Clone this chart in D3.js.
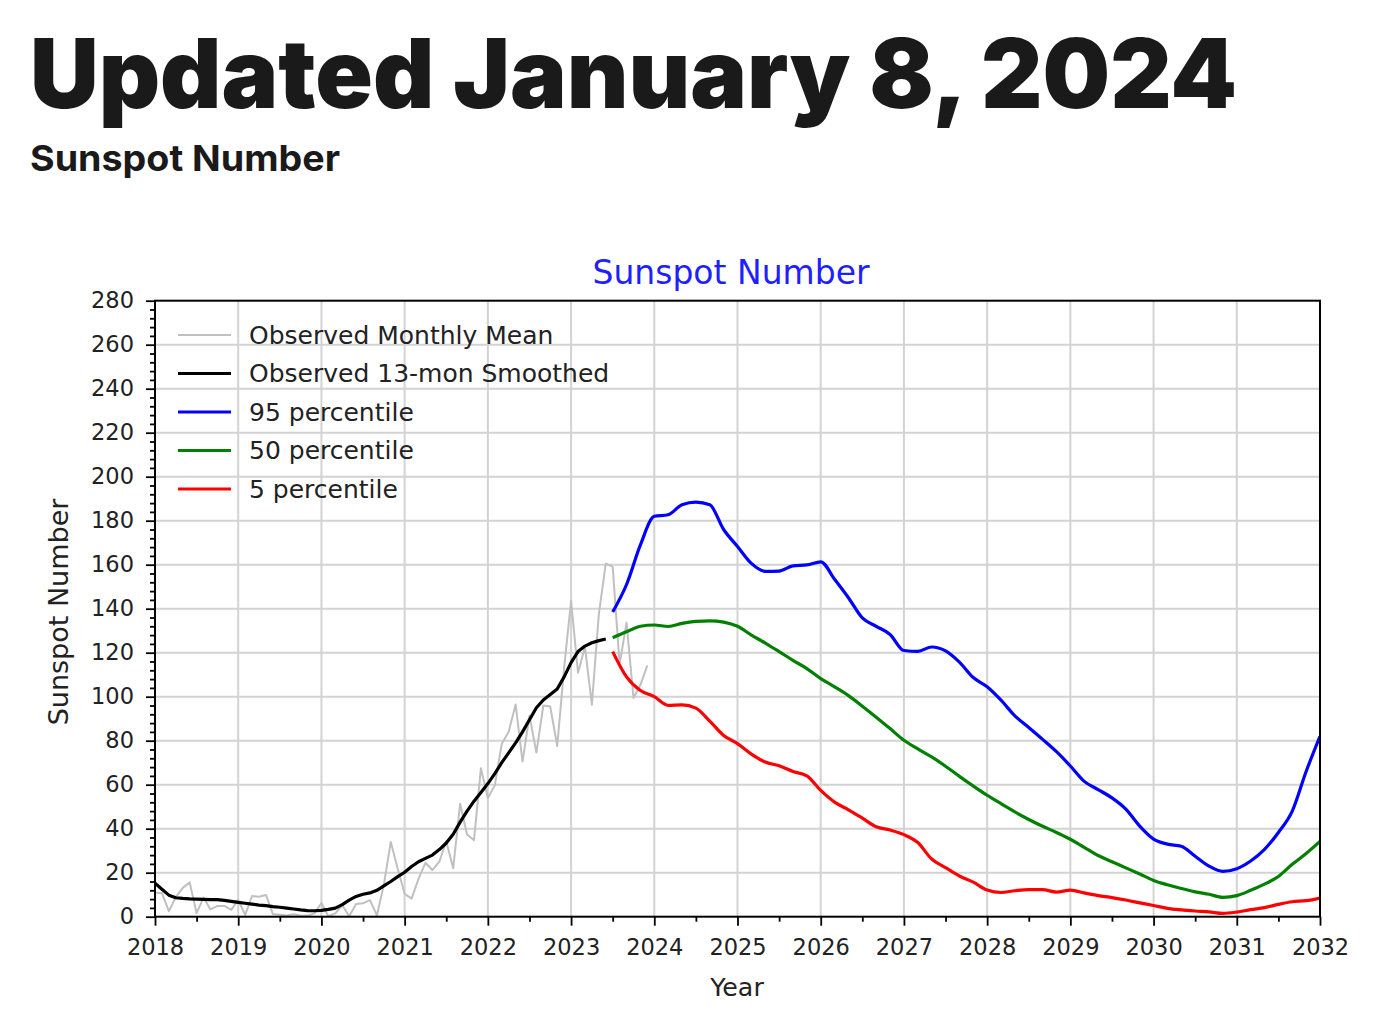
<!DOCTYPE html>
<html><head><meta charset="utf-8">
<script src="https://cdn.jsdelivr.net/npm/d3@7"></script>
<style>body{margin:0;background:#fff} svg{display:block}</style>
</head><body>
<svg id="c" width="1378" height="1024"></svg>
<script>
// ---------- DATA ----------
const startYear = 2018;            // first observed month (Jan 2018)
const monthlyMean = [
  11.0, 10.7, 2.5, 8.9, 13.1, 15.6, 1.6, 8.7, 3.3, 4.9, 4.9, 3.1,
  7.7, 0.8, 9.4, 9.1, 9.9, 1.2, 0.9, 0.5, 1.1, 0.4, 0.5, 1.5,
  6.2, 0.2, 1.5, 5.2, 0.2, 5.8, 6.1, 7.5, 0.6, 14.4, 34.0, 21.8,
  10.4, 8.2, 17.2, 24.5, 21.2, 25.0, 34.3, 22.0, 51.3, 37.4, 34.8, 67.5,
  54.0, 59.7, 78.5, 84.1, 96.5, 70.5, 91.4, 74.6, 96.0, 95.5, 77.6, 113.1,
  143.6, 110.9, 122.6, 96.4, 137.4, 160.5, 159.1, 114.8, 133.6, 99.4, 105.4, 114.2
];
const smoothed13 = [
  15.2, 12.5, 9.8, 8.6, 8.3, 8.1, 8.0, 7.9, 7.8, 7.8, 7.4, 7.0,
  6.5, 6.1, 5.7, 5.3, 5.0, 4.6, 4.3, 3.9, 3.5, 3.1, 2.8, 2.7,
  2.9, 3.3, 3.9, 5.5, 7.5, 9.2, 10.2, 10.8, 12.0, 14.0, 16.0, 18.2,
  20.2, 22.8, 25.0, 26.5, 28.0, 30.5, 33.5, 37.5, 43.0, 48.0, 52.5, 56.5,
  60.5, 65.0, 70.0, 74.5, 79.0, 84.0, 89.5, 95.0, 98.5, 101.0, 103.5, 109.0,
  115.5, 120.5, 123.0, 124.5, 125.5, 126.2
];
const predStart = 2023.5;          // predictions every 2 months from mid-2023
const predStep = 1 / 6;
const p95 = [
  138.5, 151, 169, 182, 182.7, 187.3, 188.4, 187.2, 176, 168.3, 160.6, 157,
  157.1, 159.5, 159.9, 161.3, 153.4, 145, 135.8, 132, 128.3, 121, 120.6, 122.6,
  120.8, 115.7, 108.7, 104.5, 98.4, 91.3, 86, 80.6, 75, 68.5, 61.5, 57.8,
  54, 48.9, 41.2, 35.3, 33, 32, 27.5, 23, 20.6, 21.8, 25.3, 30.6,
  38.3, 48, 66, 82
];
const p50 = [
  126.8, 129.5, 132, 132.6, 131.9, 133.3, 134.2, 134.5, 133.9, 132, 128, 124.4,
  120.5, 116.5, 112.8, 108.2, 104.5, 100.5, 95.7, 90.7, 85.5, 80.2, 76.3, 72.6,
  68.4, 63.8, 59.4, 55.2, 51.4, 47.6, 44.2, 41.1, 38.3, 35.2, 31.5, 27.8,
  25, 22.2, 19.4, 16.5, 14.5, 12.8, 11.3, 10.2, 8.8, 9.6, 12, 14.8,
  18.3, 23.8, 28.7, 34.2
];
const p5 = [
  120.5, 109, 102.8, 100, 96.1, 96.3, 94.8, 88.9, 82.4, 78.7, 73.9, 70.3,
  68.6, 66, 64, 57.4, 52.1, 48.6, 44.8, 40.9, 39.4, 37.3, 33.7, 26.2,
  22.3, 18.5, 15.7, 12.1, 11, 11.8, 12.3, 12.3, 11.2, 12.1, 10.8, 9.6,
  8.7, 7.6, 6.3, 5.1, 3.8, 3.1, 2.6, 2.2, 1.5, 2.1, 3.2, 4.1,
  5.6, 6.8, 7.3, 8.5
];
const yTicks = [0,20,40,60,80,100,120,140,160,180,200,220,240,260,280];
const xTicks = [2018,2019,2020,2021,2022,2023,2024,2025,2026,2027,2028,2029,2030,2031,2032];
const legendLabels = ["Observed Monthly Mean","Observed 13-mon Smoothed","95 percentile","50 percentile","5 percentile"];
const legendColors = ["#c0c0c0","#000000","#0000ff","#008000","#ff0000"];
const headline = "Updated January 8, 2024";
const subhead = "Sunspot Number";
const chartTitle = "Sunspot Number";
const xLabel = "Year";
const yLabel = "Sunspot Number";

// ---------- DRAW ----------
const svg = d3.select("#c");
const L = 155, R = 1320, T = 300.7, B = 916.7;
const x = d3.scaleLinear().domain([2018, 2032]).range([L, R]);
const y = d3.scaleLinear().domain([0, 280]).range([B, T]);
const FONT = "DejaVu Sans";
const TXT = "#222";

// headline
svg.append("text").attr("x", 30).attr("y", 108)
  .attr("font-family", "Inter").attr("font-weight", 900).attr("font-size", 96)
  .attr("fill", "#1a1a1a").attr("textLength", 1207).attr("lengthAdjust", "spacingAndGlyphs")
  .text(headline);
svg.append("text").attr("x", 30).attr("y", 171)
  .attr("font-family", "Inter").attr("font-weight", 700).attr("font-size", 36)
  .attr("fill", "#1a1a1a").attr("textLength", 310).attr("lengthAdjust", "spacingAndGlyphs")
  .text(subhead);

// grid
const grid = svg.append("g").attr("stroke", "#d3d3d3").attr("stroke-width", 2);
grid.selectAll("line.v").data(xTicks.slice(1, -1)).join("line")
  .attr("x1", d => x(d)).attr("x2", d => x(d)).attr("y1", T).attr("y2", B);
grid.selectAll("line.h").data(yTicks.slice(1, -1)).join("line")
  .attr("x1", L).attr("x2", R).attr("y1", d => y(d)).attr("y2", d => y(d));

// clip
svg.append("clipPath").attr("id", "clip").append("rect")
  .attr("x", L).attr("y", T).attr("width", R - L).attr("height", B - T);
const plot = svg.append("g").attr("clip-path", "url(#clip)");

const line = d3.line().x(d => x(d[0])).y(d => y(d[1]));
const monthSeries = arr => arr.map((v, i) => [startYear + i / 12, v]);
const predSeries = arr => arr.map((v, i) => [predStart + i * predStep, v]);

plot.append("path").datum(monthSeries(monthlyMean)).attr("d", line)
  .attr("fill", "none").attr("stroke", legendColors[0]).attr("stroke-width", 2).attr("stroke-linejoin", "round");
plot.append("path").datum(monthSeries(smoothed13)).attr("d", line)
  .attr("fill", "none").attr("stroke", legendColors[1]).attr("stroke-width", 3.2).attr("stroke-linejoin", "round");
[[p95, 2], [p50, 3], [p5, 4]].forEach(([arr, ci]) => {
  plot.append("path").datum(predSeries(arr)).attr("d", d3.line().curve(d3.curveMonotoneX).x(d => x(d[0])).y(d => y(d[1])))
    .attr("fill", "none").attr("stroke", legendColors[ci]).attr("stroke-width", 3.2).attr("stroke-linejoin", "round");
});

// axes
const fmtStyle = g => {
  g.select(".domain").remove();
  g.selectAll(".tick line").attr("stroke", "#000").attr("stroke-width", 1.8);
  g.selectAll(".tick text").attr("font-family", FONT).attr("font-size", 22.5).attr("fill", TXT);
};
svg.append("g").attr("transform", `translate(${L},0)`)
  .call(d3.axisLeft(y).tickValues(yTicks).tickSize(9).tickPadding(12).tickFormat(d3.format("d")))
  .call(fmtStyle);
const yMinor = d3.range(0, 281, 4).filter(v => v % 20 !== 0);
svg.append("g").attr("transform", `translate(${L},0)`)
  .call(d3.axisLeft(y).tickValues(yMinor).tickSize(5).tickFormat(""))
  .call(fmtStyle);
svg.append("g").attr("transform", `translate(0,${B})`)
  .call(d3.axisBottom(x).tickValues(xTicks).tickSize(9).tickPadding(13).tickFormat(d3.format("d")))
  .call(fmtStyle);
const xMinor = xTicks.slice(0, -1).map(v => v + 0.5);
svg.append("g").attr("transform", `translate(0,${B})`)
  .call(d3.axisBottom(x).tickValues(xMinor).tickSize(5).tickFormat(""))
  .call(fmtStyle);

// frame
svg.append("rect").attr("x", L).attr("y", T).attr("width", R - L).attr("height", B - T)
  .attr("fill", "none").attr("stroke", "#000").attr("stroke-width", 2);

// titles
svg.append("text").attr("x", 731).attr("y", 284).attr("text-anchor", "middle")
  .attr("font-family", FONT).attr("font-size", 33).attr("fill", "#1f1fff").text(chartTitle);
svg.append("text").attr("x", 737).attr("y", 996).attr("text-anchor", "middle")
  .attr("font-family", FONT).attr("font-size", 25.3).attr("fill", TXT).text(xLabel);
svg.append("text").attr("transform", "translate(68,612) rotate(-90)").attr("text-anchor", "middle")
  .attr("font-family", FONT).attr("font-size", 27).attr("fill", TXT).text(yLabel);

// legend
const lg = svg.append("g");
legendLabels.forEach((lab, i) => {
  const yy = 335 + i * 38.5;
  lg.append("line").attr("x1", 178).attr("x2", 231).attr("y1", yy).attr("y2", yy)
    .attr("stroke", legendColors[i]).attr("stroke-width", i === 0 ? 2 : 3.2);
  lg.append("text").attr("x", 249).attr("y", yy).attr("dy", "0.35em")
    .attr("font-family", FONT).attr("font-size", 25).attr("fill", TXT).text(lab);
});
</script>
</body></html>
